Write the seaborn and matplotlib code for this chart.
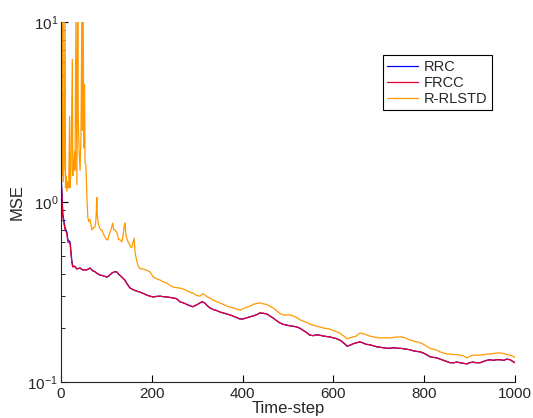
import numpy as np
import pandas as pd
import matplotlib
matplotlib.use("Agg")
import matplotlib.pyplot as plt
import seaborn as sns

# ── Data ──────────────────────────────────────────────────────────────────────
frcc_x = [0, 2, 4, 9, 13, 15, 20, 24, 26, 30, 35, 42, 48, 57, 64, 70, 75, 80, 86, 92,
          101, 106, 112, 118, 123, 128, 134, 140, 146, 152, 160, 167, 174, 182, 189, 196,
          203, 210, 218, 225, 233, 240, 248, 255, 262, 270, 277, 283, 290, 297, 304, 310,
          316, 322, 328, 335, 342, 350, 357, 364, 372, 380, 387, 394, 401, 408, 416, 423,
          430, 438, 445, 453, 460, 467, 474, 482, 490, 498, 505, 512, 520, 526, 533, 540,
          548, 556, 563, 570, 578, 585, 592, 600, 607, 614, 620, 626, 630, 636, 643, 650,
          658, 665, 672, 680, 688, 695, 702, 710, 718, 725, 732, 740, 747, 755, 762, 769,
          776, 784, 791, 798, 805, 813, 820, 828, 835, 842, 850, 857, 865, 872, 879, 886,
          894, 900, 907, 914, 923, 930, 938, 945, 952, 960, 967, 975, 982, 989, 995, 1000]
frcc_y = [1.38, 1.10, 0.83, 0.70, 0.67, 0.60, 0.59, 0.46, 0.435, 0.44, 0.425, 0.43, 0.42,
          0.42, 0.43, 0.415, 0.41, 0.40, 0.393, 0.39, 0.383, 0.39, 0.403, 0.41, 0.409,
          0.395, 0.383, 0.37, 0.35, 0.333, 0.325, 0.32, 0.316, 0.31, 0.304, 0.30, 0.297,
          0.299, 0.300, 0.298, 0.297, 0.295, 0.293, 0.29, 0.279, 0.275, 0.27, 0.266, 0.262,
          0.267, 0.273, 0.279, 0.276, 0.266, 0.258, 0.253, 0.250, 0.245, 0.242, 0.239,
          0.236, 0.232, 0.228, 0.224, 0.224, 0.227, 0.230, 0.233, 0.236, 0.242, 0.241,
          0.239, 0.233, 0.227, 0.22, 0.213, 0.209, 0.207, 0.205, 0.204, 0.202, 0.199,
          0.194, 0.189, 0.182, 0.181, 0.183, 0.182, 0.180, 0.179, 0.178, 0.176, 0.174,
          0.171, 0.167, 0.162, 0.158, 0.160, 0.163, 0.165, 0.167, 0.165, 0.162, 0.161,
          0.159, 0.157, 0.156, 0.155, 0.154, 0.154, 0.155, 0.154, 0.154, 0.153, 0.152,
          0.151, 0.149, 0.148, 0.147, 0.145, 0.142, 0.138, 0.137, 0.136, 0.134, 0.132,
          0.130, 0.128, 0.128, 0.129, 0.128, 0.127, 0.126, 0.128, 0.129, 0.128, 0.128,
          0.130, 0.132, 0.133, 0.132, 0.133, 0.133, 0.132, 0.134, 0.133, 0.130, 0.128]

# RRC sits almost exactly under FRCC; only the first steps differ a little
rrc_x = frcc_x
rrc_y = [1.45, 1.15, 0.86, 0.72, 0.68, 0.62, 0.60, 0.47, 0.44] + frcc_y[9:]

rlstd_x = [0, 1, 2, 3, 4, 5, 7, 9, 10, 11, 13, 15, 17, 19, 20, 22, 24, 25, 26, 28, 30,
           31, 33, 35, 37, 38, 40, 42, 44, 46, 47, 49, 50, 52, 53, 55, 57, 59, 61, 64,
           66, 68, 71, 75, 77, 79, 80, 82, 85, 88, 90, 94, 97, 100, 103, 106, 110, 114,
           116, 119, 123, 127, 131, 134, 137, 139, 141, 143, 146, 148, 151, 154, 156, 159,
           161, 163, 165, 168, 170, 175, 180, 188, 196, 200, 203, 208, 213, 218, 225, 233,
           240, 247, 255, 262, 270, 277, 284, 291, 298, 306, 313, 320, 328, 335, 342, 350,
           357, 364, 372, 380, 387, 394, 401, 408, 416, 423, 430, 438, 445, 453, 460, 467,
           474, 482, 490, 497, 504, 511, 518, 526, 533, 540, 548, 555, 562, 570, 577, 585,
           592, 600, 607, 614, 620, 626, 630, 636, 643, 650, 658, 665, 672, 680, 688, 695,
           702, 710, 718, 725, 732, 740, 747, 755, 762, 769, 776, 784, 791, 798, 805, 813,
           820, 828, 835, 842, 850, 857, 865, 872, 879, 886, 894, 900, 907, 914, 923, 930,
           938, 945, 952, 960, 967, 975, 982, 989, 995, 1000]
rlstd_y = [1.5, 2.9, 1.4, 2.2, 12.0, 1.3, 1.6, 12.0, 1.2, 1.4, 1.15, 1.3, 1.2, 3.0, 1.2,
           1.5, 3.8, 6.2, 1.4, 1.6, 1.9, 1.5, 12.0, 1.25, 12.0, 3.0, 1.9, 1.5, 2.3, 12.0,
           2.5, 12.0, 2.0, 4.5, 1.65, 1.6, 1.07, 0.83, 0.78, 0.80, 0.75, 0.70, 0.72, 0.726,
           0.80, 1.06, 0.85, 0.764, 0.72, 0.70, 0.70, 0.66, 0.639, 0.62, 0.615, 0.66, 0.70,
           0.764, 0.70, 0.70, 0.68, 0.62, 0.615, 0.60, 0.66, 0.73, 0.764, 0.66, 0.615, 0.60,
           0.58, 0.56, 0.562, 0.60, 0.63, 0.53, 0.495, 0.46, 0.44, 0.425, 0.425, 0.419,
           0.409, 0.395, 0.383, 0.378, 0.372, 0.369, 0.36, 0.355, 0.345, 0.337, 0.334,
           0.333, 0.328, 0.322, 0.316, 0.312, 0.303, 0.300, 0.31, 0.30, 0.293, 0.285, 0.28,
           0.275, 0.27, 0.265, 0.261, 0.258, 0.254, 0.251, 0.255, 0.26, 0.264, 0.27, 0.273,
           0.275, 0.272, 0.27, 0.264, 0.258, 0.25, 0.24, 0.236, 0.236, 0.236, 0.233, 0.229,
           0.222, 0.218, 0.215, 0.210, 0.207, 0.205, 0.202, 0.200, 0.198, 0.197, 0.193,
           0.19, 0.187, 0.182, 0.178, 0.174, 0.176, 0.178, 0.180, 0.187, 0.186, 0.183,
           0.180, 0.178, 0.177, 0.176, 0.176, 0.176, 0.176, 0.177, 0.178, 0.178, 0.177,
           0.174, 0.171, 0.169, 0.167, 0.165, 0.162, 0.158, 0.154, 0.152, 0.150, 0.147,
           0.145, 0.143, 0.143, 0.142, 0.142, 0.141, 0.140, 0.136, 0.139, 0.141, 0.141,
           0.141, 0.142, 0.143, 0.143, 0.144, 0.145, 0.145, 0.144, 0.142, 0.141, 0.139,
           0.137]

SERIES = [
    ("RRC", rrc_x, rrc_y, "#0000ff"),
    ("FRCC", frcc_x, frcc_y, "#e8002c"),
    ("R-RLSTD", rlstd_x, rlstd_y, "#ff9900"),
]

# ── Style ─────────────────────────────────────────────────────────────────────
sns.set_style("ticks")
plt.rcParams["font.family"] = ["Liberation Sans", "DejaVu Sans"]
plt.rcParams["mathtext.fontset"] = "custom"
plt.rcParams["mathtext.rm"] = "Liberation Sans"
plt.rcParams["mathtext.it"] = "Liberation Sans:italic"

fig = plt.figure(figsize=(5.33, 4.18), dpi=100)
ax = fig.add_axes([0.1144, 0.0861, 0.852, 0.861])

for name, xs, ys, col in SERIES:
    df = pd.DataFrame({"x": xs, "y": ys})
    sns.lineplot(data=df, x="x", y="y", color=col, lw=0.9, label=name, ax=ax,
                 estimator=None, sort=False)

ax.set_yscale("log")
ax.set_xlim(0, 1000)
ax.set_ylim(0.1, 10)
ax.set_xticks([0, 200, 400, 600, 800, 1000])
ax.set_xlabel("Time-step", fontsize=12, labelpad=0)
ax.set_ylabel("MSE", fontsize=12, labelpad=2)
ax.tick_params(axis="both", which="both", direction="in", labelsize=11, color="black")
ax.tick_params(axis="both", which="major", length=5)
ax.tick_params(axis="y", which="major", pad=2)
ax.tick_params(axis="y", which="minor", length=3)
sns.despine(ax=ax)

leg = ax.legend(loc="upper right", bbox_to_anchor=(0.965, 0.928), fontsize=10.5,
                frameon=True, fancybox=False, edgecolor="black", framealpha=1,
                handlelength=2.1, borderpad=0.3, labelspacing=0.15, handletextpad=0.4)
leg.get_frame().set_linewidth(0.8)

fig.savefig("out.png", dpi=100)
